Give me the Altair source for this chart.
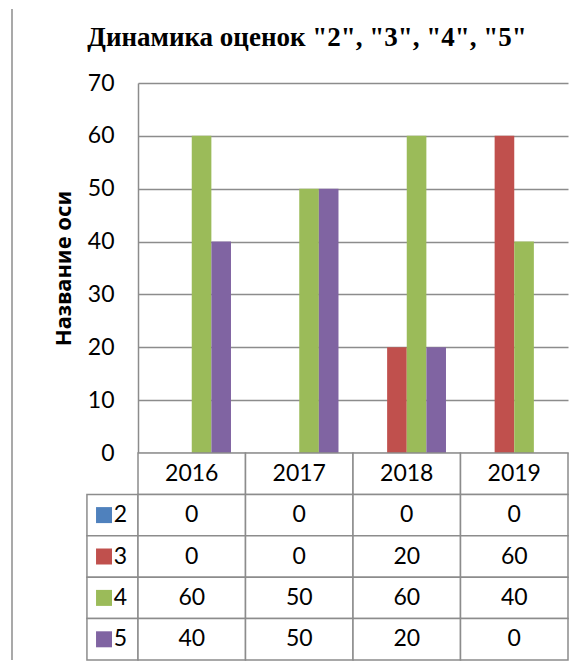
import altair as alt
import pandas as pd

years = ["2016", "2017", "2018", "2019"]
series = ["2", "3", "4", "5"]
vals_2 = [0, 0, 0, 0]
vals_3 = [0, 0, 20, 60]
vals_4 = [60, 50, 60, 40]
vals_5 = [40, 50, 20, 0]
colors = ["#4F81BD", "#C0504D", "#9BBB59", "#8064A2"]
y_ticks = [0, 10, 20, 30, 40, 50, 60, 70]

all_vals = [vals_2, vals_3, vals_4, vals_5]

rows = []
for s, vals in zip(series, all_vals):
    for yr, v in zip(years, vals):
        rows.append({"year": yr, "series": s, "value": v})
df = pd.DataFrame(rows)

GRID = "#8c8c8c"
NUMFONT = "Lato"
NUMSIZE = 23

bars = alt.Chart(df).mark_bar().encode(
    x=alt.X("year:N", sort=years,
            scale=alt.Scale(paddingInner=0.27, paddingOuter=0.135), axis=None),
    xOffset=alt.XOffset("series:N", sort=series,
                        scale=alt.Scale(paddingInner=0, paddingOuter=0)),
    y=alt.Y("value:Q", scale=alt.Scale(domain=[0, 70], nice=False),
            axis=alt.Axis(values=y_ticks, title="Название оси", grid=True,
                          gridColor=GRID, gridWidth=1.5, domainColor=GRID,
                          domainWidth=1.5, ticks=False, labelFont=NUMFONT,
                          labelFontSize=NUMSIZE, labelColor="#000000", labelPadding=24,
                          titleFont="Noto Sans", titleFontSize=22,
                          titleFontWeight="bold", titleColor="#000000",
                          titlePadding=12)),
    color=alt.Color("series:N", sort=series,
                    scale=alt.Scale(domain=series, range=colors), legend=None),
)

# chart-area border (left edge of the Excel chart frame)
frame = alt.Chart(pd.DataFrame({"k": [0]})).mark_rule(color=GRID, strokeWidth=1.5).encode(
    x=alt.value(-126), y=alt.value(-74), y2=alt.value(577)
)

top = alt.layer(bars, frame).properties(width=430, height=370)

# data table below the plot
cells = []
for ci, yr in enumerate(years):
    cells.append({"x0": ci, "x1": ci + 1, "y0": 0, "y1": 1, "txt": yr})
for ri, (s, vals) in enumerate(zip(series, all_vals), start=1):
    cells.append({"x0": -0.475, "x1": 0, "y0": ri, "y1": ri + 1, "txt": ""})
    for ci, v in enumerate(vals):
        cells.append({"x0": ci, "x1": ci + 1, "y0": ri, "y1": ri + 1, "txt": str(v)})
cdf = pd.DataFrame(cells)
cdf["xc"] = (cdf["x0"] + cdf["x1"]) / 2
cdf["yc"] = (cdf["y0"] + cdf["y1"]) / 2

lab = pd.DataFrame({
    "series": series,
    "row": [i + 1.5 for i in range(len(series))],
    "xs": [-0.316] * len(series),
    "xt": [-0.225] * len(series),
})

xs = alt.Scale(domain=[0, 4], nice=False, zero=False)
ys = alt.Scale(domain=[0, 5], nice=False, zero=False, reverse=True)

rect = alt.Chart(cdf).mark_rect(fill="white", stroke=GRID, strokeWidth=1.5).encode(
    x=alt.X("x0:Q", scale=xs, axis=None), x2="x1:Q",
    y=alt.Y("y0:Q", scale=ys, axis=None), y2="y1:Q",
)
txt = alt.Chart(cdf).mark_text(font=NUMFONT, fontSize=NUMSIZE, color="#000000").encode(
    x=alt.X("xc:Q", scale=xs, axis=None),
    y=alt.Y("yc:Q", scale=ys, axis=None),
    text="txt:N",
)
sq = alt.Chart(lab).mark_point(shape="square", filled=True, size=256, opacity=1).encode(
    x=alt.X("xs:Q", scale=xs, axis=None),
    y=alt.Y("row:Q", scale=ys, axis=None),
    color=alt.Color("series:N", scale=alt.Scale(domain=series, range=colors), legend=None),
)
ltxt = alt.Chart(lab).mark_text(font=NUMFONT, fontSize=NUMSIZE, color="#000000", align="left").encode(
    x=alt.X("xt:Q", scale=xs, axis=None),
    y=alt.Y("row:Q", scale=ys, axis=None),
    text="series:N",
)
table = alt.layer(rect, txt, sq, ltxt).properties(width=430, height=207)

chart = alt.vconcat(top, table, spacing=0, bounds="flush").properties(
    title=alt.Title('Динамика оценок "2", "3", "4", "5"', font="Liberation Serif",
                    fontSize=27, fontWeight="bold", color="#000000",
                    anchor="middle", offset=-44, dx=17),
    padding={"left": 3, "top": 0, "right": 10, "bottom": 0},
).resolve_scale(color="shared").configure_view(stroke=None)

chart.save("out.html", embed_options={"renderer": "svg", "actions": False})
